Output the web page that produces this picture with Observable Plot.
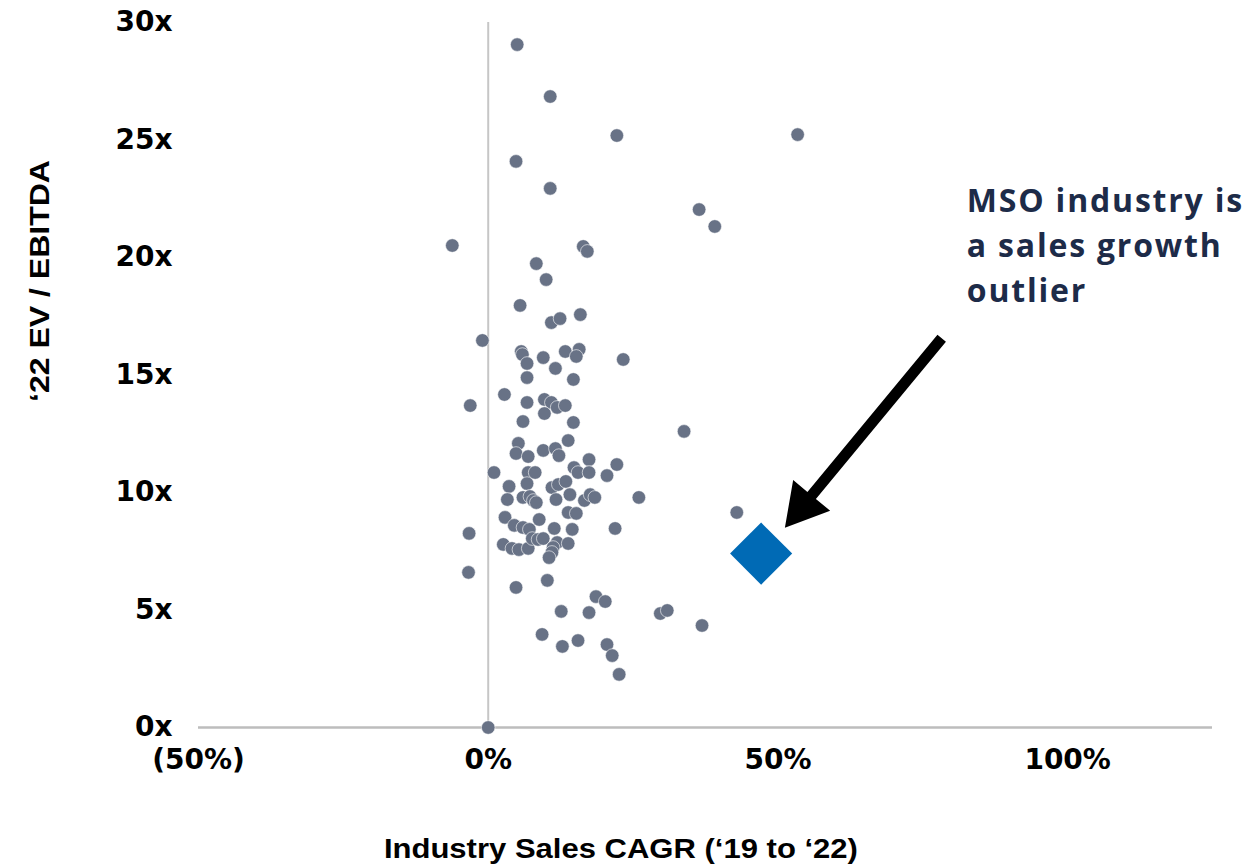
<!DOCTYPE html>
<html><head><meta charset="utf-8">
<script src="https://cdn.jsdelivr.net/npm/d3@7"></script>
<script src="https://cdn.jsdelivr.net/npm/@observablehq/plot@0.6"></script>
<style>html,body{margin:0;padding:0;background:#fff} svg{display:block}</style>
</head><body><div id="chart"></div>
<script>
// Industry Sales CAGR ('19 to '22), in %
const salesCagr = [5.0,10.7,22.2,53.4,4.8,10.7,36.4,39.1,-6.2,16.4,17.1,8.3,10.0,5.5,10.9,12.4,15.9,-1.0,5.7,5.9,6.7,9.5,13.3,15.7,15.2,11.6,23.3,6.7,14.7,2.8,-3.1,6.7,9.7,10.9,11.9,13.3,9.7,6.0,14.7,33.8,5.2,4.8,6.9,9.5,11.6,12.2,13.8,1.0,6.9,8.1,6.7,14.8,15.5,17.4,17.4,20.5,22.2,3.6,11.0,12.1,13.4,14.1,3.3,6.0,7.2,7.8,8.3,11.7,16.6,17.6,18.4,26.0,13.8,15.2,2.9,8.8,4.5,6.0,7.1,-3.3,11.4,14.5,21.9,42.9,2.6,4.1,5.3,6.9,7.6,8.6,9.5,11.9,11.2,11.0,10.5,13.8,-3.4,10.2,4.8,12.6,17.4,18.6,20.2,29.7,30.9,36.9,9.3,12.8,15.5,20.5,21.4,22.6,0];
// '22 EV / EBITDA multiple
const evEbitda = [29.06,26.85,25.19,25.23,24.09,22.94,22.04,21.32,20.51,20.47,20.26,19.74,19.06,17.96,17.23,17.40,17.57,16.47,16.0,15.87,15.49,15.74,16.0,16.09,15.79,15.28,15.66,14.89,14.81,14.17,13.70,13.83,13.96,13.83,13.62,13.70,13.36,13.02,12.98,12.60,12.09,11.66,11.53,11.79,11.87,11.57,12.21,10.85,10.85,10.85,10.38,11.06,10.85,11.40,10.85,10.72,11.19,10.26,10.21,10.34,10.47,9.91,9.70,9.79,9.83,9.66,9.57,9.70,9.66,9.91,9.79,9.79,9.15,9.11,8.94,8.85,8.60,8.51,8.43,8.26,8.47,8.43,8.47,9.15,7.79,7.62,7.57,7.62,8.04,8.0,8.04,7.87,7.66,7.45,7.23,7.83,6.60,6.26,5.96,4.94,4.89,5.57,5.36,4.85,4.98,4.34,3.96,3.45,3.70,3.53,3.06,2.26,0];
// MSO industry
const msoCagr = [47.1];
const msoMultiple = [7.4];
// Axis ticks
const xTicks = [-50, 0, 50, 100];
const yTicks = [0, 5, 10, 15, 20, 25, 30];
// Texts
const annotationLines = ["MSO industry is", "a sales growth", "outlier"];
const xTitle = "Industry Sales CAGR (\u201819 to \u201822)";
const yTitle = "\u201822 EV / EBITDA";
// Annotation anchors (data units)
const arrowTip = {x: 51.2, y: 8.5};
const annotationAt = {x: 82.6, y: 20.65};

const industries = salesCagr.map((x, i) => ({x, y: evEbitda[i]}));
const mso = msoCagr.map((x, i) => ({x, y: msoMultiple[i]}));

const tickFont = "'DejaVu Sans', sans-serif";
const titleFont = "'Liberation Sans', 'Roboto', sans-serif";

// filled block arrow, drawn pointing up from (0,0) to (0,-l)
const blockArrow = {
  draw(context, l) {
    const hw = 5.5, headLen = 42, headHalf = 24;
    context.moveTo(-hw, 0);
    context.lineTo(-hw, -l + headLen);
    context.lineTo(-headHalf, -l + headLen);
    context.lineTo(0, -l);
    context.lineTo(headHalf, -l + headLen);
    context.lineTo(hw, -l + headLen);
    context.lineTo(hw, 0);
    context.closePath();
  }
};

const chart = Plot.plot({
  width: 1252,
  height: 865,
  marginLeft: 198,
  marginRight: 40,
  marginTop: 22,
  marginBottom: 138,
  style: {background: "#fff", color: "#000", fontFamily: tickFont, overflow: "visible"},
  x: {domain: [-50, 125], ticks: xTicks},
  y: {domain: [0, 30], ticks: yTicks},
  marks: [
    Plot.ruleX([0], {y1: 0, y2: 30, stroke: "#c6c6c6", strokeWidth: 2}),
    Plot.ruleY([0], {stroke: "#bdbdbd", strokeWidth: 2.5}),
    Plot.axisX({ticks: xTicks, tickSize: 0, tickPadding: 22, fontSize: 28, fontWeight: "bold", fontFamily: tickFont, label: null,
      tickFormat: d => d < 0 ? `(${-d}%)` : `${d}%`}),
    Plot.axisY({ticks: yTicks, tickSize: 0, tickPadding: 26, fontSize: 28, fontWeight: "bold", fontFamily: tickFont, label: null,
      tickFormat: d => `${d}x`}),
    Plot.dot(industries, {x: "x", y: "y", r: 6.8, fill: "#687286", stroke: "#fff", strokeWidth: 0.6}),
    Plot.dot(mso, {x: "x", y: "y", symbol: "diamond2", r: 28, fill: "#006ab5"}),
    Plot.vector([arrowTip], {x: "x", y: "y", anchor: "end", rotate: 219.6, length: 246, shape: blockArrow,
      fill: "#000", stroke: "none"}),
    Plot.text([annotationLines.join("\n")], {x: () => annotationAt.x, y: () => annotationAt.y, text: d => d,
      textAnchor: "start", lineAnchor: "middle", lineHeight: 1.41, fontSize: 32, fontWeight: "bold", fill: "#1d2b48", fontFamily: "'Open Sans', sans-serif"}),
    Plot.text([xTitle], {x: () => 22.9, frameAnchor: "bottom", dy: 130, text: d => d, textAnchor: "middle", fontSize: 28, fontWeight: "bold", fontFamily: titleFont, fill: "#000"}),
    Plot.text([yTitle], {y: () => 19.0, frameAnchor: "left", dx: -158, rotate: -90, text: d => d, textAnchor: "middle", fontSize: 28, fontWeight: "bold", fontFamily: titleFont, fill: "#000"})
  ]
});
document.getElementById("chart").appendChild(chart);
// condensed look for the axis titles, wider tracking for the annotation
d3.select(chart).selectAll("text").each(function() {
  if (this.textContent === xTitle) d3.select(this).attr("textLength", 474).attr("lengthAdjust", "spacingAndGlyphs");
  if (this.textContent === yTitle) d3.select(this).attr("textLength", 242).attr("lengthAdjust", "spacingAndGlyphs");
  if (this.textContent.startsWith(annotationLines[0])) d3.select(this).style("letter-spacing", "1.8px");
});
</script>
</body></html>
